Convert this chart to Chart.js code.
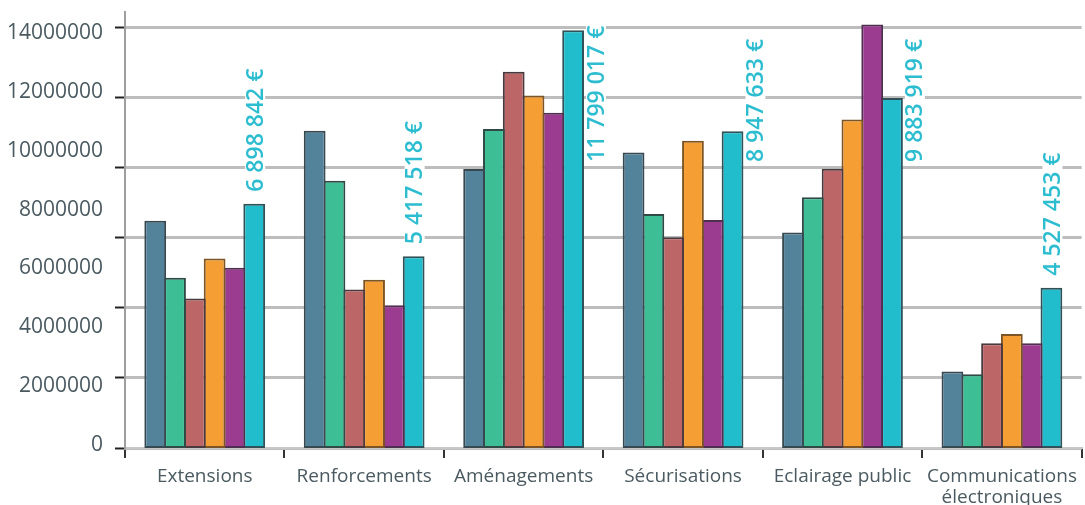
<!DOCTYPE html>
<html lang="fr">
<head>
<meta charset="utf-8">
<title>Investissements par catégorie</title>
<script src="https://cdn.jsdelivr.net/npm/chart.js@4/dist/chart.umd.min.js"></script>
<style>
    html, body { margin: 0; padding: 0; background: #ffffff; }
    #wrap { width: 1085px; height: 505px; }
</style>
</head>
<body>
<div id="wrap"><canvas id="barChart" width="1085" height="505"></canvas></div>
<script>
// Données
const categories = ['Extensions', 'Renforcements', 'Aménagements', 'Sécurisations', 'Eclairage public', ['Communications', 'électroniques']];

const serie1 = [6420000, 8960000, 7880000, 8350000, 6090000, 2160000];
const serie2 = [4810000, 7550000, 9010000, 6610000, 7080000, 2080000];
const serie3 = [4220000, 4480000, 10630000, 5950000, 7890000, 2960000];
const serie4 = [5350000, 4750000, 9960000, 8680000, 9280000, 3220000];
const serie5 = [5090000, 4030000, 9470000, 6440000, 11960000, 2960000];
const serie6 = [6898842, 5417518, 11799017, 8947633, 9883919, 4527453];

const yTickLabels = [0, 2000000, 4000000, 6000000, 8000000, 10000000, 12000000, 14000000];

const fillColors = ['#52839b', '#3dbe95', '#bc6668', '#f59e34', '#9b3c90', '#21bdcc'];
const edgeColors = ['#374850', '#2f4a45', '#4b3a3d', '#7d5424', '#4f2f4f', '#2f5157'];

const textColor = '#4a5a60';
const labelColor = '#2dbdd0';

function formatEuro(v) {
    return String(v).replace(/\B(?=(\d{3})+(?!\d))/g, ' ') + ' €';
}

// étiquettes verticales au-dessus (ou à côté) des dernières barres
const valueLabels = {
    id: 'valueLabels',
    afterDatasetsDraw(chart) {
        const ctx = chart.ctx;
        const meta = chart.getDatasetMeta(5);
        const area = chart.chartArea;
        const gridScale = chart.scales.yGrid;
        ctx.save();
        ctx.font = '600 23px "Open Sans", sans-serif';
        meta.data.forEach((bar, i) => {
            const text = formatEuro(serie6[i]);
            const w = ctx.measureText(text).width;
            let cx, bottom;
            if (bar.y - 12 - w >= area.top + 20) {
                cx = bar.x + 1;
                bottom = bar.y - 12;
            } else {
                cx = bar.x + bar.width / 2 + 12;
                bottom = gridScale.getPixelForValue(8000000) - 6;
            }
            ctx.save();
            ctx.translate(cx, bottom);
            ctx.rotate(-Math.PI / 2);
            ctx.fillStyle = '#ffffff';
            ctx.fillRect(-3, -10, w + 6, 20);
            ctx.fillStyle = labelColor;
            ctx.textAlign = 'left';
            ctx.textBaseline = 'middle';
            ctx.fillText(text, 0, 1);
            ctx.restore();
        });
        ctx.restore();
    }
};

const seriesData = [serie1, serie2, serie3, serie4, serie5, serie6];

const ctx = document.getElementById('barChart').getContext('2d');

new Chart(ctx, {
    type: 'bar',
    data: {
        labels: categories,
        datasets: seriesData.map((values, i) => ({
            label: 'Série ' + (i + 1),
            data: values,
            backgroundColor: fillColors[i],
            borderColor: edgeColors[i],
            borderWidth: 2,
            borderSkipped: false,
            yAxisID: 'y'
        }))
    },
    options: {
        responsive: false,
        animation: false,
        datasets: {
            // barres légèrement chevauchées pour un trait commun
            bar: { categoryPercentage: 0.745, barPercentage: 1.1 }
        },
        layout: { padding: { top: 12, right: 0.5, left: 0, bottom: 0 } },
        plugins: {
            legend: { display: false },
            tooltip: { enabled: false }
        },
        scales: {
            x: {
                grid: {
                    offset: true,
                    drawOnChartArea: false,
                    drawTicks: true,
                    tickLength: 10,
                    tickColor: '#333333',
                    tickWidth: 2,
                    lineWidth: 2
                },
                border: { display: true, color: '#c8c8c8', width: 2 },
                ticks: {
                    color: textColor,
                    font: { family: '"Open Sans", sans-serif', size: 19, lineHeight: 1.1 },
                    padding: 8,
                    maxRotation: 0,
                    autoSkip: false
                },
                afterFit: axis => { axis.height = 57; }
            },
            y: {
                display: false,
                min: 0,
                max: 12316000
            },
            yGrid: {
                position: 'left',
                weight: 0,
                min: 0,
                max: 12457000,
                bounds: 'data',
                afterBuildTicks: axis => {
                    axis.ticks = yTickLabels.filter(v => v <= axis.max).map(v => ({ value: v }));
                },
                grid: {
                    color: '#bdbdbd',
                    lineWidth: 3,
                    drawTicks: true,
                    tickLength: 10,
                    tickColor: '#222222',
                    tickWidth: 2
                },
                border: { display: true, color: '#9e9e9e', width: 2 },
                ticks: { display: false },
                afterFit: axis => { axis.width = 10; }
            },
            yLab: {
                position: 'left',
                weight: 1,
                min: -102000,
                max: 14713000,
                bounds: 'data',
                afterBuildTicks: axis => {
                    axis.ticks = yTickLabels.map(v => ({ value: v }));
                },
                grid: { display: false, drawTicks: false },
                border: { display: false },
                ticks: {
                    color: textColor,
                    font: { family: '"Open Sans", sans-serif', size: 21 },
                    padding: 12,
                    callback: v => String(v)
                },
                afterFit: axis => {
                    axis.width = 115;
                    axis.paddingTop = 0;
                    axis.paddingBottom = 0;
                }
            }
        }
    },
    plugins: [valueLabels]
});
</script>
</body>
</html>
